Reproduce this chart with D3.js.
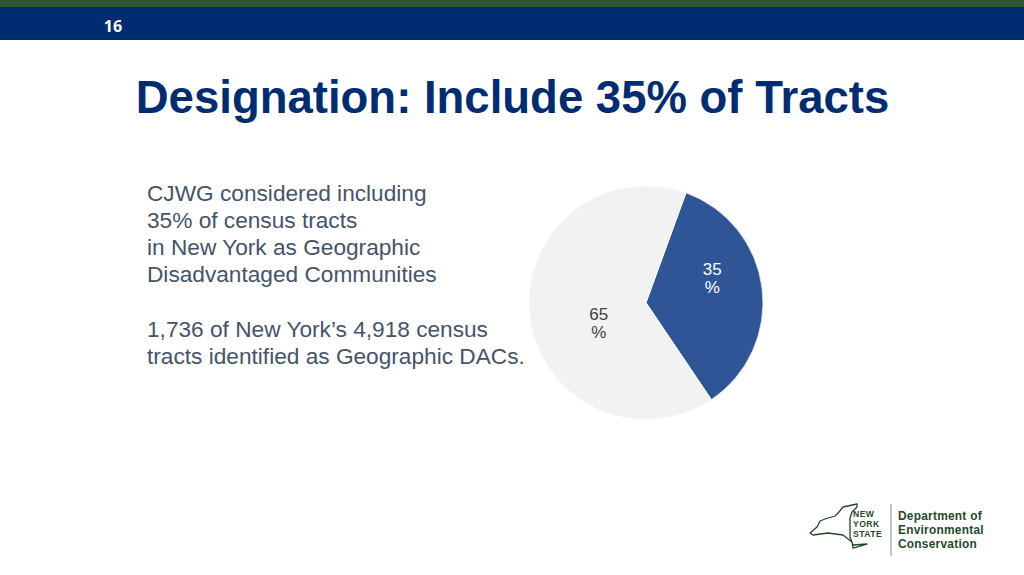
<!DOCTYPE html>
<html><head><meta charset="utf-8">
<script src="https://cdn.jsdelivr.net/npm/d3@7"></script>
<style>html,body{margin:0;padding:0;background:#fff;overflow:hidden}svg{display:block}</style>
</head><body><svg id="c" width="1024" height="575"></svg>
<script>
const categories = ["Geographic DACs", "Other tracts"];
const values = [35, 65];
const labels = ["35", "65"];
const colours = ["#2f5597", "#f2f2f2"];
const labelColours = ["#ffffff", "#404040"];
const titleText = "Designation: Include 35% of Tracts";
const pageNumber = "16";
const bodyLines = ["CJWG considered including","35% of census tracts","in New York as Geographic","Disadvantaged Communities","","1,736 of New York’s 4,918 census","tracts identified as Geographic DACs."];
const logoLines = ["NEW","YORK","STATE"];
const deptLines = ["Department of","Environmental","Conservation"];

const svg = d3.select("#c");
const sans = "'Liberation Sans', Arial, sans-serif";
svg.append("rect").attr("width",1024).attr("height",7).attr("fill","#31572f");
svg.append("rect").attr("y",7).attr("width",1024).attr("height",33).attr("fill","#002d72");
svg.append("text").attr("x",113).attr("y",31.5).attr("text-anchor","middle").attr("fill","#fff")
  .attr("font-family","'Open Sans',sans-serif").attr("font-weight",700).attr("font-size",16).text(pageNumber);
svg.append("text").attr("x",512.5).attr("y",112.5).attr("text-anchor","middle").attr("fill","#002d72")
  .attr("font-family",sans).attr("font-weight",700).attr("font-size",45.5).text(titleText);
const lineY = d3.scaleLinear().domain([0,1]).range([200.5,227.8]);
svg.append("g").selectAll("text").data(bodyLines).join("text")
  .attr("x",147).attr("y",(d,i)=>lineY(i)).attr("fill","#44546a")
  .attr("font-family",sans).attr("font-size",22.66).text(d=>d);

const cx=646, cy=302.7, r=117;
const start = 20*Math.PI/180;
const pie = d3.pie().sort(null).startAngle(start).endAngle(start+2*Math.PI)(values);
const arc = d3.arc().innerRadius(0).outerRadius(r);
const g = svg.append("g").attr("transform",`translate(${cx},${cy})`);
g.selectAll("path").data(pie).join("path").attr("d",arc)
  .attr("fill",(d,i)=>colours[i]).attr("stroke","#fff").attr("stroke-width",0.75);
const lab = g.selectAll("g.l").data(pie).join("g").attr("class","l").attr("transform",d=>{
  const m = d.index===0 ? [66.3,-22] : [-47.3,23]; return `translate(${m})`; });
lab.append("text").attr("text-anchor","middle").attr("y",-6).attr("fill",(d,i)=>labelColours[i])
  .attr("font-family",sans).attr("font-size",17).text((d,i)=>labels[i]);
lab.append("text").attr("text-anchor","middle").attr("y",12.5).attr("fill",(d,i)=>labelColours[i])
  .attr("font-family",sans).attr("font-size",17).text("%");

// logo
const green="#1f4a2c";
const logo = svg.append("g");
logo.append("path").attr("fill","none").attr("stroke",green).attr("stroke-width",1.3).attr("stroke-linejoin","round")
  .attr("d","M810 533 L817 527 L820 521 L825 519 L835 516 L839 512 L843 507 L857 504 L857 507 L852 512 L850 518 L850 537 L853 545 L867 544 L853 548 L852 542 L843 535 L828 533 L813 535 Z");
logo.selectAll("text.n").data(logoLines).join("text").attr("class","n")
  .attr("x",853).attr("y",(d,i)=>517+i*9.9).attr("fill",green)
  .attr("font-family",sans).attr("font-weight",700).attr("font-size",8.6).attr("letter-spacing",0.45).text(d=>d);
logo.append("line").attr("x1",891).attr("x2",891).attr("y1",504).attr("y2",556).attr("stroke","#9aa39c").attr("stroke-width",1.2);
logo.selectAll("text.d").data(deptLines).join("text").attr("class","d")
  .attr("x",898).attr("y",(d,i)=>520.3+i*13.8).attr("fill",green)
  .attr("font-family",sans).attr("font-weight",700).attr("font-size",11.9).attr("letter-spacing",0.25).text(d=>d);
</script></body></html>
